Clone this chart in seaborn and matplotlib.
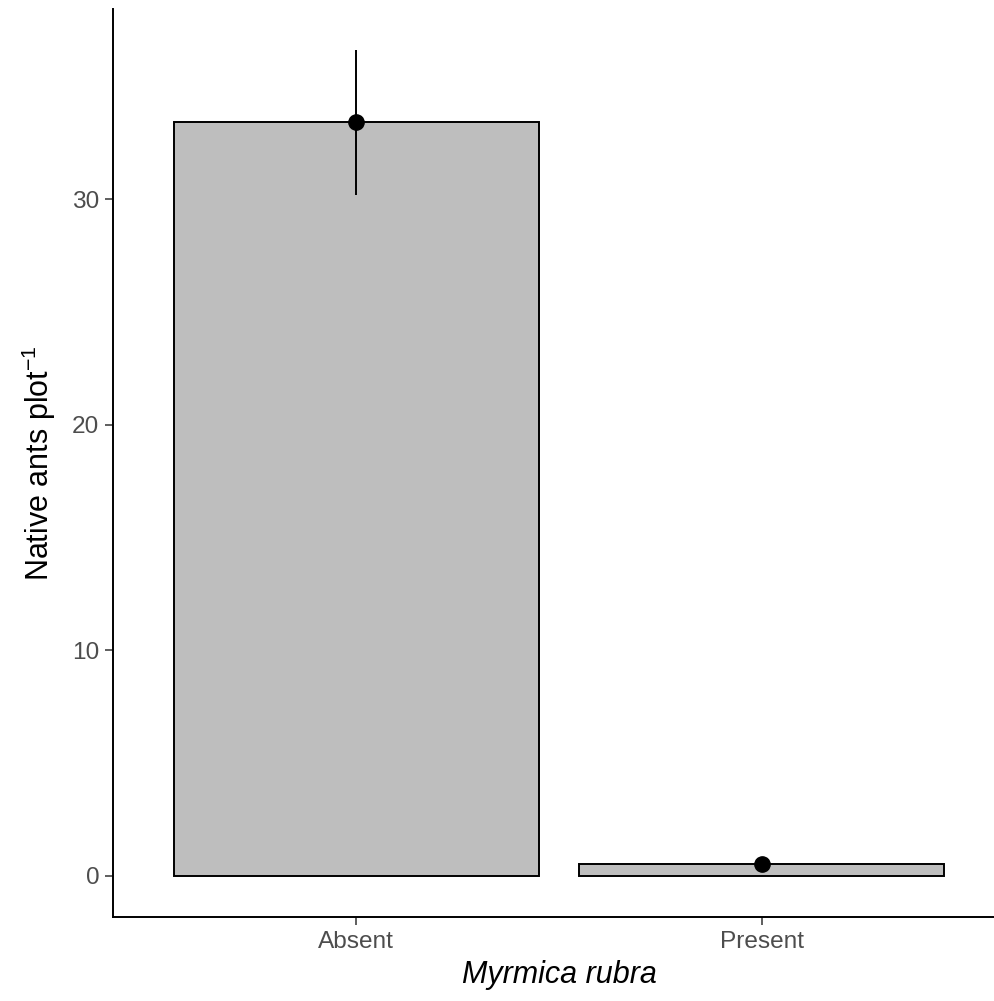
import matplotlib
matplotlib.use("Agg")
import matplotlib.pyplot as plt
import seaborn as sns
import numpy as np
import pandas as pd

categories = ["Absent", "Present"]
means = [33.4, 0.5]
se = [3.2, 0.25]
y_ticks = [0, 10, 20, 30]

sns.set_theme(style="ticks")
plt.rcParams['font.family'] = ['Liberation Sans', 'DejaVu Sans']
plt.rcParams['mathtext.fontset'] = 'custom'
plt.rcParams['mathtext.rm'] = 'Liberation Sans'

df = pd.DataFrame({"cat": categories, "mean": means, "se": se})

fig = plt.figure(figsize=(9.95, 10.01), dpi=100)
W, H = 995, 1001
left, right, top, bottom = 113, 1005, 9, 917
ax = fig.add_axes([left / W, (H - bottom) / H, (right - left) / W, (bottom - top) / H])

sns.barplot(data=df, x="cat", y="mean", color="#BEBEBE", saturation=1,
            edgecolor="black", linewidth=1.4, width=0.9, errorbar=None, ax=ax)
for p in ax.patches:
    p.set_facecolor("#BEBEBE")

xpos = np.arange(len(categories))
ax.errorbar(xpos, df["mean"], yerr=df["se"], fmt="o", color="black",
            markersize=11, elinewidth=1.4, capsize=0, zorder=5)

ymax = max(m + s for m, s in zip(means, se))
ax.set_ylim(-0.05 * ymax, 1.05 * ymax)
ax.set_xlim(-0.6, len(categories) - 0.4)
ax.set_yticks(y_ticks)

for s in ["top", "right"]:
    ax.spines[s].set_visible(False)
for s in ["left", "bottom"]:
    ax.spines[s].set_color("black")
    ax.spines[s].set_linewidth(1.4)

ax.tick_params(axis="both", length=5.5, width=1.1, color="#333333",
               labelcolor="#4D4D4D", labelsize=17.6, pad=4.4)

ax.set_xlabel("Myrmica rubra", fontsize=22, style="italic", color="black", labelpad=5)
ax.set_ylabel("Native ants plot$^{-1}$", fontsize=22, color="black", labelpad=10)

fig.savefig("out.png", dpi=100)
